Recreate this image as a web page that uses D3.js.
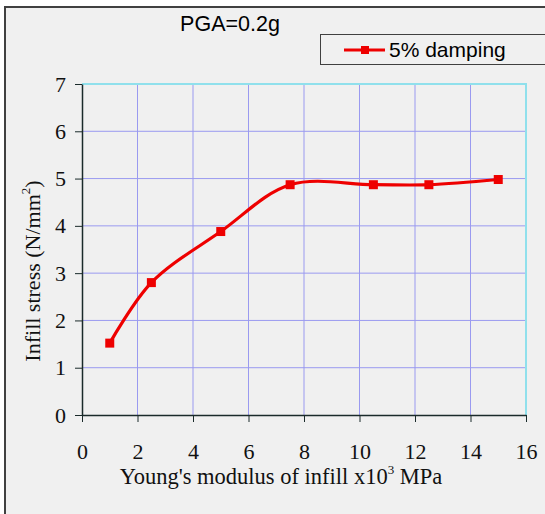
<!DOCTYPE html>
<html>
<head>
<meta charset="utf-8">
<script src="https://cdn.jsdelivr.net/npm/d3@7"></script>
<style>
  html, body { margin: 0; padding: 0; background: #ffffff; }
  svg { display: block; }
</style>
</head>
<body>
<div id="chart"></div>
<script>
// ---- data ----
const modulus = [1, 2.5, 5, 7.5, 10.5, 12.5, 15];      // x10^3 MPa
const stress = [1.52, 2.8, 3.88, 4.87, 4.87, 4.87, 4.98]; // N/mm^2
const xTicks = [0, 2, 4, 6, 8, 10, 12, 14, 16];
const yTicks = [0, 1, 2, 3, 4, 5, 6, 7];
const titleText = 'PGA=0.2g';
const seriesName = '5% damping';

const width = 545, height = 514;
const margin = { top: 84, right: 19, bottom: 99, left: 82 };
const innerW = width - margin.left - margin.right;
const innerH = height - margin.top - margin.bottom;

const svg = d3.select('#chart').append('svg')
  .attr('width', width)
  .attr('height', height);

// chart area frame
svg.append('rect')
  .attr('x', 5).attr('y', 7)
  .attr('width', width + 10).attr('height', height + 10)
  .attr('fill', '#f0f0f0')
  .attr('stroke', '#404040')
  .attr('stroke-width', 2);

// title
svg.append('text')
  .attr('x', 230).attr('y', 31)
  .attr('text-anchor', 'middle')
  .style('font-family', '"Liberation Sans", Arial, sans-serif')
  .style('font-size', '21.5px')
  .attr('fill', '#000')
  .text(titleText);

// legend
const legend = svg.append('g');
legend.append('rect')
  .attr('x', 320.5).attr('y', 34.5)
  .attr('width', 240).attr('height', 30)
  .attr('fill', '#f0f0f0')
  .attr('stroke', '#404040');
legend.append('line')
  .attr('x1', 344).attr('x2', 385)
  .attr('y1', 50).attr('y2', 50)
  .attr('stroke', '#ee0000').attr('stroke-width', 3);
legend.append('rect')
  .attr('x', 361).attr('y', 46)
  .attr('width', 8).attr('height', 8)
  .attr('fill', '#ee0000');
legend.append('text')
  .attr('x', 389).attr('y', 57)
  .style('font-family', '"Liberation Sans", Arial, sans-serif')
  .style('font-size', '21px')
  .attr('fill', '#000')
  .text(seriesName);

const x = d3.scaleLinear().domain([0, 16]).range([0, innerW]);
const y = d3.scaleLinear().domain([0, 7]).range([innerH, 0]);

const g = svg.append('g')
  .attr('transform', `translate(${margin.left},${margin.top})`);

// grid
g.append('g')
  .selectAll('line')
  .data(xTicks.slice(1, -1))
  .join('line')
  .attr('x1', d => x(d)).attr('x2', d => x(d))
  .attr('y1', 0).attr('y2', innerH)
  .attr('stroke', '#9a9af0').attr('stroke-width', 1);

g.append('g')
  .selectAll('line')
  .data(yTicks.slice(1, -1))
  .join('line')
  .attr('x1', 0).attr('x2', innerW)
  .attr('y1', d => y(d)).attr('y2', d => y(d))
  .attr('stroke', '#9a9af0').attr('stroke-width', 1);

// top and right plot border
g.append('path')
  .attr('d', `M0,${y(7)}H${x(16)}V${y(0)}`)
  .attr('fill', 'none')
  .attr('stroke', '#90e0ec')
  .attr('stroke-width', 2);

// axes
const serif = '"Liberation Serif", "Times New Roman", serif';

const xAxis = g.append('g')
  .attr('transform', `translate(0,${innerH})`)
  .call(d3.axisBottom(x).tickValues(xTicks).tickFormat(d3.format('d'))
    .tickSize(7).tickPadding(21).tickSizeOuter(0));
const yAxis = g.append('g')
  .call(d3.axisLeft(y).tickValues(yTicks).tickFormat(d3.format('d'))
    .tickSize(7).tickPadding(9).tickSizeOuter(0));

[xAxis, yAxis].forEach(ax => {
  ax.select('.domain').attr('stroke', '#1a2a2a').attr('stroke-width', 1.5);
  ax.selectAll('.tick line').attr('stroke', '#1a2a2a');
  ax.selectAll('text')
    .attr('fill', '#111')
    .style('font-family', serif)
    .style('font-size', '22px');
});

// line
const line = d3.line()
  .x((d, i) => x(modulus[i]))
  .y(d => y(d))
  .curve(d3.curveCatmullRom.alpha(0.5));

g.append('path')
  .datum(stress)
  .attr('d', line)
  .attr('fill', 'none')
  .attr('stroke', '#ee0000')
  .attr('stroke-width', 3.2)
  .attr('stroke-linejoin', 'round');

g.append('g')
  .selectAll('rect')
  .data(stress)
  .join('rect')
  .attr('x', (d, i) => x(modulus[i]) - 4.5)
  .attr('y', d => y(d) - 4.5)
  .attr('width', 9).attr('height', 9)
  .attr('fill', '#ee0000');

// x axis title
const xt = svg.append('text')
  .attr('x', 281).attr('y', 484)
  .attr('text-anchor', 'middle')
  .style('font-family', serif)
  .style('font-size', '22.5px')
  .attr('fill', '#111');
xt.append('tspan').text("Young's modulus of infill x10");
xt.append('tspan').attr('dy', -10).style('font-size', '13px').text('3');
xt.append('tspan').attr('dy', 10).text(' MPa');

// y axis title
const yt = svg.append('text')
  .attr('transform', 'translate(40,271) rotate(-90)')
  .attr('text-anchor', 'middle')
  .style('font-family', serif)
  .style('font-size', '22px')
  .attr('fill', '#111');
yt.append('tspan').text('Infill stress  (N/mm');
yt.append('tspan').attr('dy', -10).style('font-size', '13px').text('2');
yt.append('tspan').attr('dy', 10).text(')');
</script>
</body>
</html>
